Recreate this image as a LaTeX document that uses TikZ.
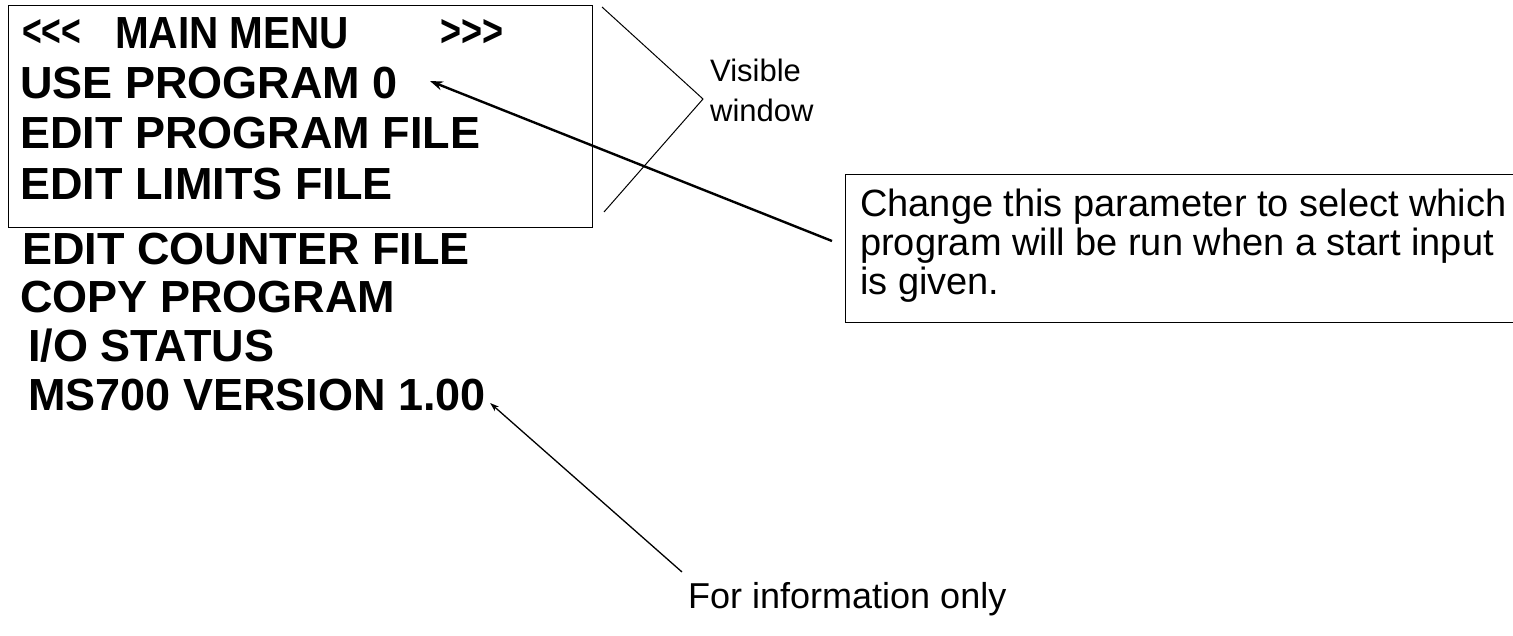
\documentclass[tikz,border=0pt]{standalone}
\usepackage{fontspec}
\setmainfont{Liberation Sans}
\usetikzlibrary{arrows.meta}
\begin{document}
\begin{tikzpicture}[x=1pt,y=-1pt,
  menu/.style={anchor=west,inner sep=0pt,font=\fontsize{45}{48}\bfseries\selectfont},
  note/.style={anchor=west,inner sep=0pt,align=left},
  thinline/.style={line width=1pt},
  bigarrow/.style={line width=2.4pt,-{Stealth[length=13pt,width=9pt]}},
  smallarrow/.style={line width=1.3pt,-{Stealth[length=9pt,width=6pt]}}]
\useasboundingbox (0,0) rectangle (1513,636);
% visible window frame
\draw[thinline] (8,6) rectangle (592,228);
\node[menu] (t1a) at (22,33) {\scalebox{0.75}[1]{<\kern0pt<\kern0pt<}};
\node[menu] (t1b) at (115,33) {\scalebox{0.9}[1]{MAIN MENU}};
\node[menu] (t1c) at (440,33) {\scalebox{0.8}[1]{>\kern0pt>\kern0pt>}};
\node[menu] (t2) at (20,83) {USE PROGRAM 0};
\node[menu] (t3) at (20,133) {EDIT PROGRAM FILE};
\node[menu] (t4) at (20,184) {EDIT LIMITS FILE};
\node[menu] (t5) at (22,249) {EDIT COUNTER FILE};
\node[menu] (t6) at (20,297) {COPY PROGRAM};
\node[menu] (t7) at (28,346) {I/O STATUS};
\node[menu] (t8) at (28,395) {MS700 VERSION 1.00};
% bracket
\coordinate (b1) at (602,7);
\coordinate (b2) at (703,99);
\coordinate (b3) at (604,212);
\draw[thinline] (b1) -- (b2) -- (b3);
\node[note,font=\fontsize{31}{40}\selectfont] (vis) at (710,90) {Visible\\window};
% callout box
\node[draw,thinline,anchor=north west,inner sep=0pt,minimum width=700pt,minimum height=148pt] (cb) at (845,174) {};
\node[note,font=\fontsize{38}{39}\selectfont,anchor=north west] (ct) at (860,189)
  {Change this parameter to select which\\program will be run when a start input\\is given.};
\coordinate (a1) at (832,241);
\coordinate (tip1) at ([xshift=32pt,yshift=2pt]t2.east);
\draw[bigarrow] (a1) -- (tip1);
% info
\node[note,font=\fontsize{36}{40}\selectfont] (info) at (688,599) {For information only};
\coordinate (a2) at (682,572);
\coordinate (tip2) at ([xshift=4pt,yshift=-8pt]t8.east);
\draw[smallarrow] (a2) -- (tip2);
\end{tikzpicture}
\end{document}
